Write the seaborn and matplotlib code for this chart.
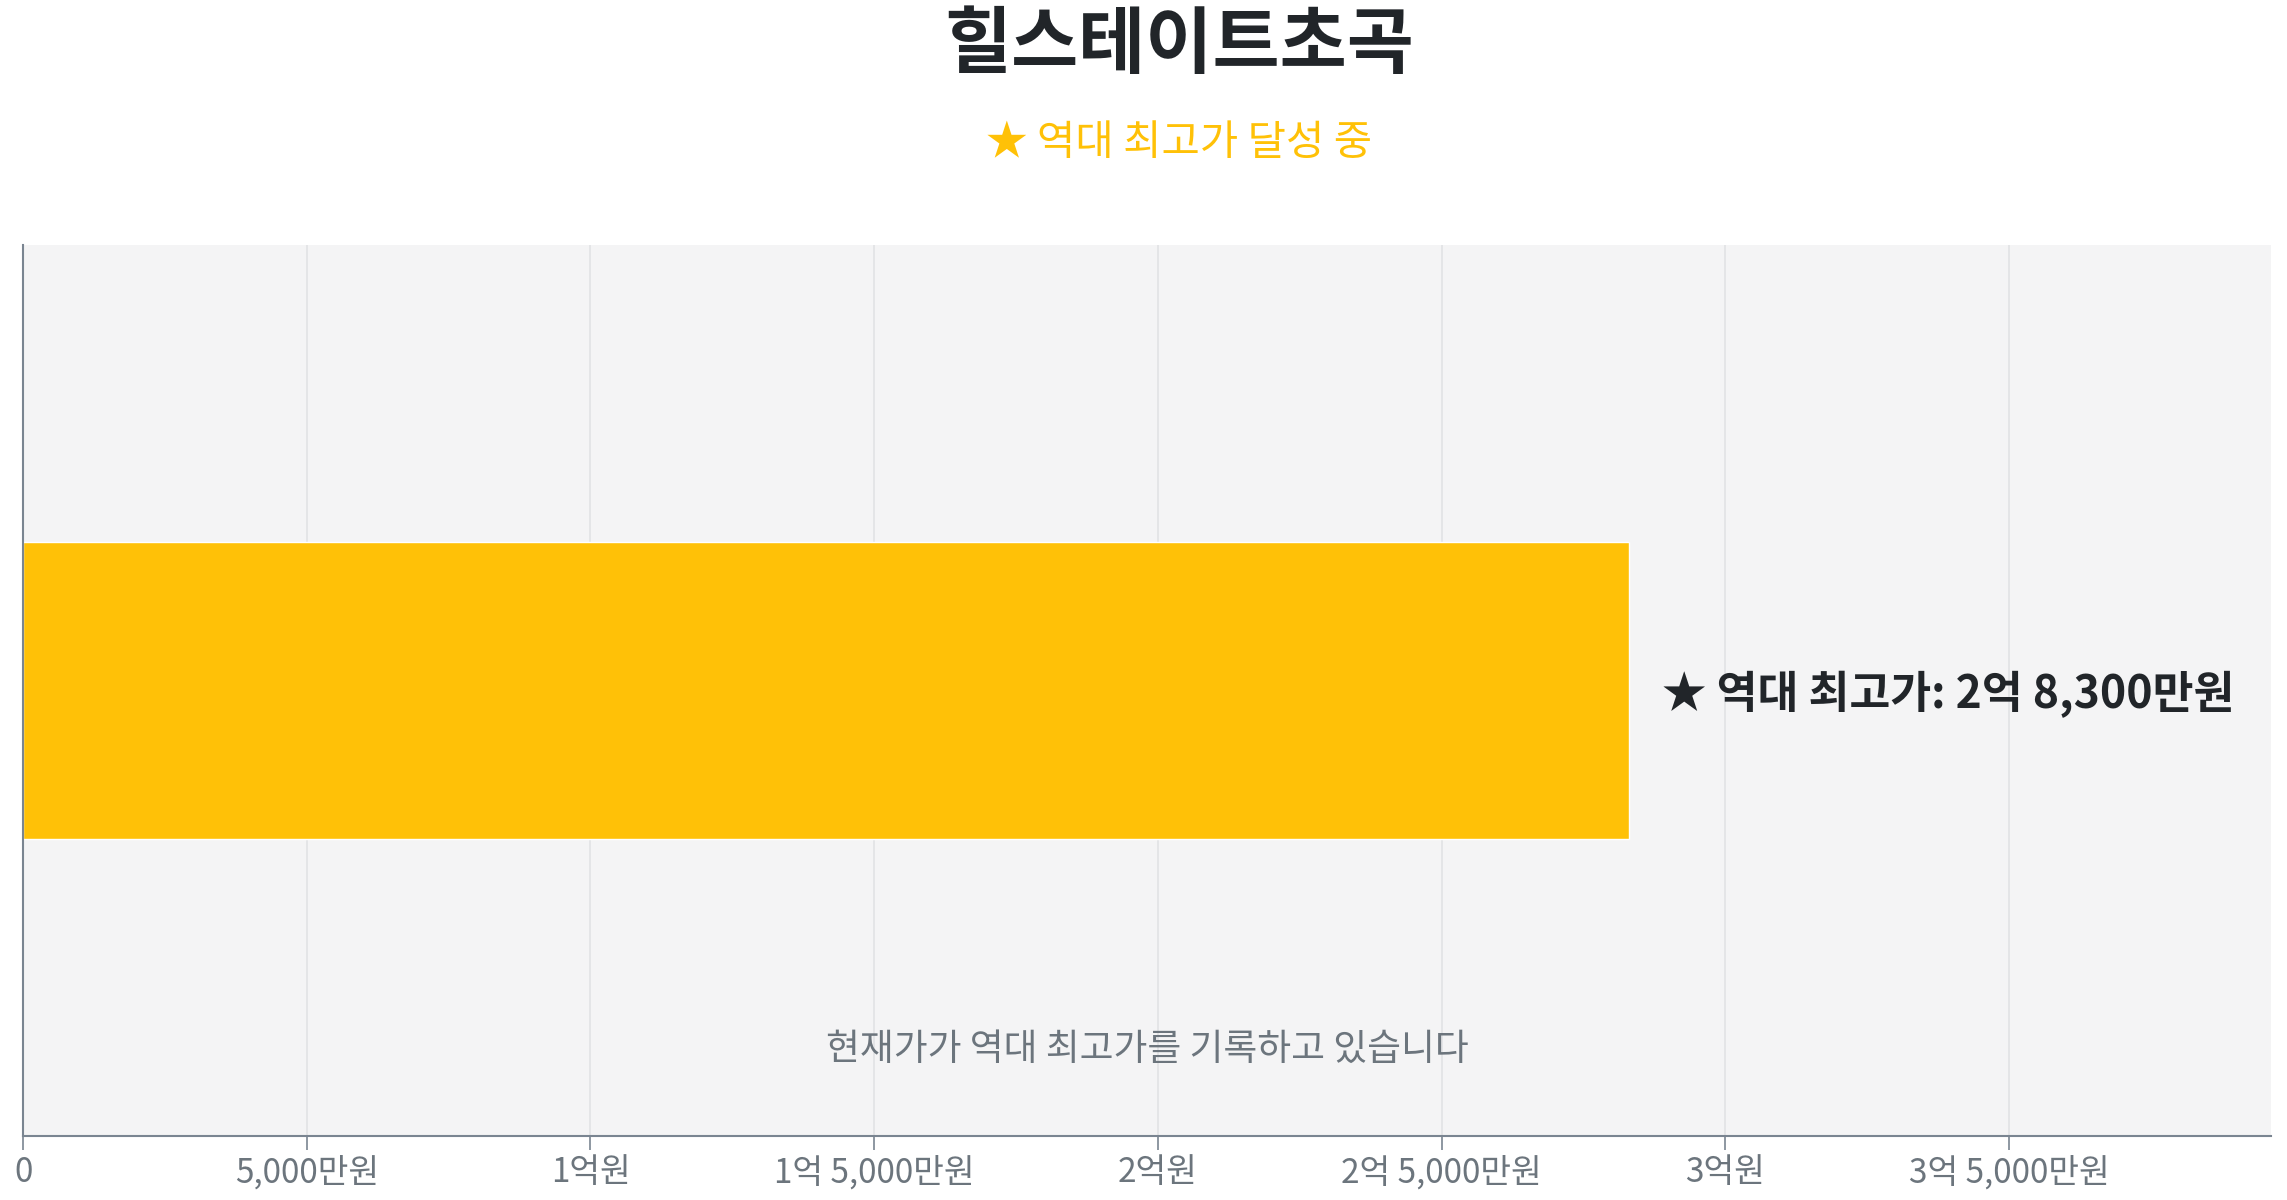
"""
힐스테이트초곡 - 역대 최고가 바 차트
"""

import pandas as pd
import matplotlib
matplotlib.use("Agg")
import matplotlib.pyplot as plt
import seaborn as sns

# 스타일 설정
sns.set_theme(style="whitegrid")
plt.rcParams["font.family"] = ["Noto Sans CJK KR", "DejaVu Sans"]

# 데이터 (단위: 만원)
complex_names = ["힐스테이트초곡"]
record_prices = [28300]
tick_values = [0, 5000, 10000, 15000, 20000, 25000, 30000, 35000]
tick_labels = ["0", "5,000만원", "1억원", "1억 5,000만원", "2억원",
               "2억 5,000만원", "3억원", "3억 5,000만원"]
title_text = "힐스테이트초곡"
subtitle_text = "★ 역대 최고가 달성 중"
bar_label_text = "★ 역대 최고가: 2억 8,300만원"
note_text = "현재가가 역대 최고가를 기록하고 있습니다"

df = pd.DataFrame({"단지": complex_names, "가격": record_prices})

AMBER = "#FFC107"
DARK = "#212529"
GRAY = "#6c757d"

fig = plt.figure(figsize=(22.87, 12), dpi=100)
ax = fig.add_axes([0.0101, 0.0533, 0.9829, 0.7425])

sns.barplot(data=df, x="가격", y="단지", orient="h", color=AMBER,
            saturation=1, width=1.0, ax=ax)

ax.set_xlim(0, max(record_prices) * 1.4)
ax.set_ylim(1.5, -1.5)

ax.set_facecolor("#f4f4f5")
ax.grid(axis="x", color="#e3e4e6", linewidth=1.3)
ax.grid(axis="y", visible=False)
ax.set_axisbelow(True)

for side in ["top", "right"]:
    ax.spines[side].set_visible(False)
for side in ["left", "bottom"]:
    ax.spines[side].set_visible(True)
    ax.spines[side].set_color("#7a8591")
    ax.spines[side].set_linewidth(1.5)

ax.set_xticks(tick_values)
ax.set_xticklabels(tick_labels)
ax.tick_params(axis="x", colors="#7a8591", labelcolor=GRAY, labelsize=24,
               length=10, width=1.2, direction="out", bottom=True, pad=4)
ax.set_yticks([])
ax.set_xlabel("")
ax.set_ylabel("")

# 바 끝 라벨
ax.annotate(bar_label_text, xy=(record_prices[0], 0), xytext=(24, -3),
            textcoords="offset points", va="center", ha="left",
            fontsize=32, fontweight="bold", color=DARK)

# 하단 안내 문구
ax.text(0.5, 0.097, note_text, transform=ax.transAxes, ha="center",
        va="center", fontsize=26.5, color=GRAY)

# 제목 / 부제목
fig.text(0.5156, 0.962, title_text, ha="center", va="center",
         fontsize=52.5, fontweight="bold", color=DARK)
fig.text(0.5156, 0.880, subtitle_text, ha="center", va="center",
         fontsize=30, color=AMBER)

fig.savefig("out.png", dpi=100)
